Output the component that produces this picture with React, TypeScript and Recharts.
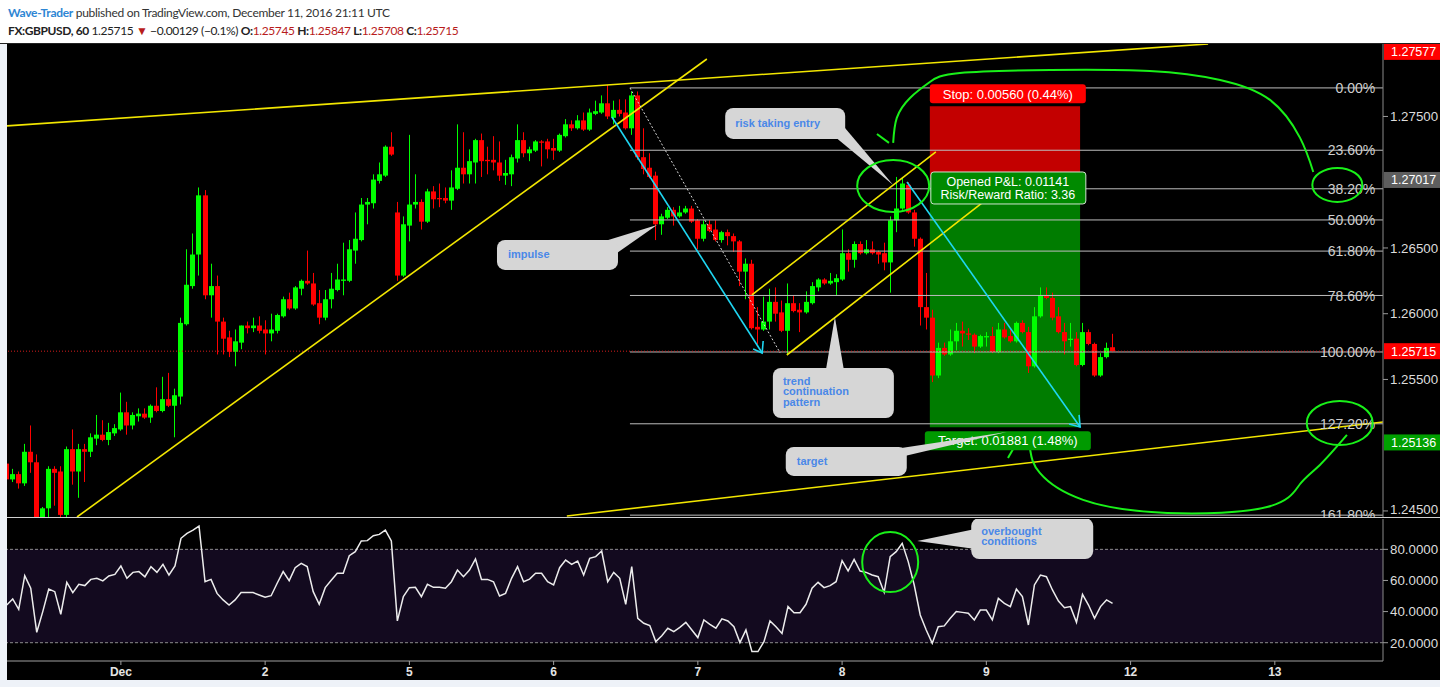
import React from "react";
import {
  Bar,
  ComposedChart,
  Line,
  ReferenceArea,
  ReferenceDot,
  ReferenceLine,
  XAxis,
  YAxis,
} from "recharts";

// hourly GBPUSD candles, bar index 0 = Nov 30 05:00
const openPx = [
  1.2486, 1.2474, 1.2478, 1.2471, 1.2495, 1.2487, 1.244, 1.2452, 1.2482, 1.248,
  1.2447, 1.2497, 1.248, 1.2497, 1.2495, 1.2505, 1.2508, 1.2504, 1.2509, 1.2512,
  1.2525, 1.2515, 1.2522, 1.2524, 1.2521, 1.253, 1.2526, 1.2535, 1.253, 1.2537,
  1.2592, 1.2621, 1.2645, 1.269, 1.2614, 1.2621, 1.2594, 1.2582, 1.2571, 1.2578,
  1.2591, 1.2589, 1.2591, 1.2588, 1.2585, 1.2587, 1.2598, 1.2611, 1.2604, 1.2619,
  1.2625, 1.2623, 1.2608, 1.2597, 1.2611, 1.2618, 1.2625, 1.2625, 1.2648, 1.2656,
  1.2683, 1.2684, 1.2701, 1.2705, 1.2727, 1.2677, 1.2629, 1.2667, 1.2683, 1.2685,
  1.267, 1.2693, 1.2688, 1.2688, 1.2686, 1.2695, 1.2711, 1.2706, 1.2715, 1.2732,
  1.2717, 1.2717, 1.2715, 1.2705, 1.2706, 1.2718, 1.2732, 1.2722, 1.2724, 1.2731,
  1.2731, 1.2726, 1.2724, 1.2735, 1.2744, 1.2741, 1.2747, 1.274, 1.2752, 1.2753,
  1.276, 1.2749, 1.2755, 1.2753, 1.2741, 1.2766, 1.2719, 1.2711, 1.2705, 1.2668,
  1.2673, 1.2679, 1.2674, 1.2677, 1.268, 1.2671, 1.2657, 1.2668, 1.2664, 1.2656,
  1.2662, 1.2659, 1.2655, 1.2632, 1.2638, 1.259, 1.2588, 1.2594, 1.2609, 1.2601,
  1.2587, 1.2608, 1.2603, 1.2601, 1.2608, 1.262, 1.2626, 1.2623, 1.2624, 1.2626,
  1.2646, 1.2641, 1.2653, 1.2646, 1.2649, 1.2647, 1.2646, 1.2639, 1.2671, 1.268,
  1.2698, 1.2677, 1.2657, 1.2605, 1.2597, 1.2553, 1.2574, 1.2569, 1.2579, 1.2587,
  1.2585, 1.2584, 1.2575, 1.2582, 1.2583, 1.2571, 1.2588, 1.2583, 1.2579, 1.2593,
  1.2586, 1.256, 1.2598, 1.2614, 1.2612, 1.2598, 1.2586, 1.258, 1.2581, 1.2561,
  1.2586, 1.2577, 1.2553, 1.2567, 1.25745,
];
const highPx = [
  1.2489, 1.2482, 1.248, 1.2501, 1.2515, 1.2493, 1.2453, 1.2484, 1.2484, 1.2484,
  1.2499, 1.2512, 1.2501, 1.2501, 1.2509, 1.2523, 1.2519, 1.2517, 1.2516, 1.254,
  1.2533, 1.2525, 1.2528, 1.2528, 1.2531, 1.2544, 1.2552, 1.2555, 1.2543, 1.2597,
  1.2649, 1.2661, 1.2696, 1.2694, 1.2638, 1.2629, 1.2597, 1.2587, 1.2588, 1.2591,
  1.2594, 1.2597, 1.2598, 1.2595, 1.26, 1.26, 1.2613, 1.2616, 1.2621, 1.2626,
  1.2648, 1.2631, 1.2618, 1.2618, 1.2631, 1.2638, 1.2654, 1.2656, 1.2677, 1.2688,
  1.2688, 1.2706, 1.2715, 1.2728, 1.2738, 1.2685, 1.2674, 1.2736, 1.2706, 1.2687,
  1.2695, 1.2697, 1.2699, 1.2696, 1.2709, 1.2744, 1.2738, 1.2725, 1.2733, 1.2737,
  1.2727, 1.2735, 1.2731, 1.2717, 1.2721, 1.2744, 1.2738, 1.2727, 1.2732, 1.2732,
  1.2733, 1.2733, 1.2737, 1.2748, 1.2747, 1.2751, 1.2753, 1.2756, 1.2762, 1.2766,
  1.2774, 1.2762, 1.2763, 1.2763, 1.2769, 1.2769, 1.2741, 1.2722, 1.2708, 1.2676,
  1.2681, 1.2681, 1.2682, 1.2682, 1.2682, 1.2672, 1.2671, 1.2671, 1.2671, 1.2663,
  1.2664, 1.2661, 1.2656, 1.2642, 1.2641, 1.2605, 1.2613, 1.2619, 1.262, 1.261,
  1.2623, 1.2614, 1.2608, 1.2617, 1.2624, 1.2627, 1.2627, 1.2631, 1.263, 1.2664,
  1.2649, 1.2655, 1.2655, 1.2656, 1.2655, 1.2648, 1.2654, 1.2674, 1.2704, 1.2704,
  1.27, 1.2679, 1.2658, 1.2631, 1.2603, 1.2578, 1.2578, 1.2588, 1.2593, 1.2594,
  1.2589, 1.2585, 1.2584, 1.2586, 1.259, 1.2593, 1.2593, 1.2588, 1.2594, 1.2595,
  1.259, 1.2605, 1.262, 1.262, 1.2616, 1.2605, 1.2593, 1.2593, 1.2586, 1.2593,
  1.2588, 1.2578, 1.257, 1.2578, 1.25847,
];
const lowPx = [
  1.2472, 1.2472, 1.2467, 1.2469, 1.2479, 1.2436, 1.2436, 1.2445, 1.2454, 1.2445,
  1.2445, 1.247, 1.246, 1.2472, 1.2491, 1.25, 1.2503, 1.25, 1.2507, 1.2511,
  1.2508, 1.2512, 1.2518, 1.252, 1.2517, 1.2525, 1.2525, 1.2529, 1.2506, 1.2531,
  1.2591, 1.2619, 1.2629, 1.2611, 1.2597, 1.2569, 1.2569, 1.2567, 1.256, 1.2573,
  1.2585, 1.2586, 1.2585, 1.2569, 1.2579, 1.2585, 1.2597, 1.2603, 1.2603, 1.2614,
  1.2622, 1.2606, 1.2592, 1.2595, 1.2604, 1.2617, 1.2614, 1.2624, 1.2638, 1.2655,
  1.2668, 1.268, 1.2699, 1.2704, 1.272, 1.2625, 1.2628, 1.2655, 1.268, 1.2664,
  1.2669, 1.268, 1.2681, 1.2684, 1.2679, 1.2694, 1.2699, 1.2699, 1.2699, 1.2704,
  1.2706, 1.2709, 1.2701, 1.2698, 1.2697, 1.2715, 1.2719, 1.2716, 1.2723, 1.2712,
  1.2718, 1.2717, 1.2723, 1.2734, 1.2739, 1.274, 1.2739, 1.2739, 1.2751, 1.2752,
  1.2748, 1.2744, 1.275, 1.274, 1.2736, 1.2717, 1.2706, 1.2703, 1.2656, 1.266,
  1.2672, 1.2667, 1.2673, 1.2676, 1.2669, 1.2649, 1.2655, 1.2662, 1.2655, 1.2654,
  1.2652, 1.2647, 1.2621, 1.2611, 1.2588, 1.2577, 1.2587, 1.2588, 1.2594, 1.2586,
  1.2569, 1.2601, 1.2586, 1.26, 1.2607, 1.2617, 1.2622, 1.2622, 1.2614, 1.2625,
  1.2632, 1.2635, 1.2645, 1.2645, 1.2645, 1.2638, 1.2633, 1.2616, 1.2662, 1.2679,
  1.2676, 1.2651, 1.2591, 1.2588, 1.2548, 1.2551, 1.2568, 1.2568, 1.2572, 1.2575,
  1.258, 1.257, 1.2574, 1.2575, 1.257, 1.257, 1.2581, 1.2578, 1.2578, 1.2585,
  1.2555, 1.2559, 1.2597, 1.2611, 1.2595, 1.2585, 1.2569, 1.2575, 1.256, 1.256,
  1.2576, 1.2552, 1.2552, 1.2566, 1.25708,
];
const closePx = [
  1.2474, 1.2478, 1.2471, 1.2495, 1.2487, 1.2439, 1.2452, 1.2482, 1.2479, 1.2447,
  1.2497, 1.248, 1.2497, 1.2495, 1.2506, 1.2508, 1.2504, 1.251, 1.2513, 1.2525,
  1.2515, 1.2523, 1.2524, 1.2521, 1.253, 1.2526, 1.2535, 1.253, 1.2538, 1.2593,
  1.2622, 1.2645, 1.269, 1.2614, 1.2621, 1.2594, 1.2581, 1.2571, 1.2579, 1.2591,
  1.2589, 1.2591, 1.2587, 1.2585, 1.2588, 1.2599, 1.2611, 1.2604, 1.262, 1.2625,
  1.2623, 1.2607, 1.2597, 1.2611, 1.2619, 1.2626, 1.2626, 1.2649, 1.2657, 1.2683,
  1.2685, 1.2702, 1.2706, 1.2727, 1.2721, 1.2629, 1.2668, 1.2683, 1.2685, 1.267,
  1.2693, 1.2687, 1.2687, 1.2686, 1.2696, 1.2711, 1.2706, 1.2716, 1.2732, 1.2716,
  1.2716, 1.2715, 1.2705, 1.2707, 1.2719, 1.2732, 1.2722, 1.2725, 1.2731, 1.273,
  1.2725, 1.2724, 1.2736, 1.2744, 1.2741, 1.2747, 1.274, 1.2753, 1.2754, 1.276,
  1.275, 1.2755, 1.2752, 1.2741, 1.2766, 1.2719, 1.271, 1.2704, 1.2668, 1.2674,
  1.2679, 1.2674, 1.2677, 1.268, 1.267, 1.2657, 1.2668, 1.2663, 1.2656, 1.2662,
  1.2659, 1.2655, 1.2632, 1.2638, 1.2589, 1.2588, 1.2594, 1.2609, 1.26, 1.2587,
  1.2608, 1.2602, 1.2601, 1.2609, 1.2621, 1.2626, 1.2623, 1.2625, 1.2627, 1.2646,
  1.2641, 1.2653, 1.2646, 1.2649, 1.2646, 1.2645, 1.2639, 1.2671, 1.268, 1.2699,
  1.2677, 1.2657, 1.2605, 1.2597, 1.2553, 1.2574, 1.2569, 1.2579, 1.2587, 1.2585,
  1.2584, 1.2575, 1.2583, 1.2583, 1.2571, 1.2588, 1.2582, 1.2579, 1.2593, 1.2586,
  1.256, 1.2598, 1.2614, 1.2612, 1.2597, 1.2586, 1.2579, 1.2581, 1.2561, 1.2586,
  1.2577, 1.2553, 1.2567, 1.2574, 1.25715,
];
const rsi14 = [
  44.2, 48.1, 41.5, 63.1, 55.0, 26.7, 40.0, 54.5, 52.8, 38.3,
  58.8, 52.2, 57.5, 56.7, 60.7, 61.4, 59.7, 62.9, 63.9, 69.3,
  61.4, 65.2, 65.7, 62.4, 68.9, 65.2, 70.4, 63.5, 69.3, 87.1,
  90.3, 92.4, 95.0, 59.2, 60.7, 51.7, 47.5, 44.2, 47.5, 52.2,
  52.2, 52.2, 50.7, 49.2, 50.2, 58.2, 65.7, 59.9, 68.2, 71.0,
  68.9, 52.8, 44.7, 55.4, 60.1, 64.6, 64.6, 75.9, 78.5, 85.4,
  85.6, 88.8, 89.6, 92.4, 85.4, 34.0, 49.6, 55.4, 55.6, 49.6,
  57.5, 55.6, 55.6, 55.0, 59.2, 66.7, 62.4, 66.7, 73.8, 60.7,
  60.7, 59.2, 50.0, 51.7, 61.4, 68.9, 59.2, 60.9, 64.6, 64.6,
  59.2, 57.1, 68.2, 73.1, 70.4, 72.5, 63.5, 74.2, 75.3, 78.9,
  59.2, 65.2, 61.4, 44.7, 68.9, 35.7, 32.5, 31.0, 20.7, 24.5,
  29.3, 27.1, 29.9, 33.1, 28.2, 23.3, 34.6, 31.8, 29.3, 35.3,
  34.0, 30.3, 20.1, 28.2, 14.3, 14.3, 20.7, 34.0, 30.3, 26.0,
  43.2, 39.3, 39.3, 44.7, 55.0, 58.8, 55.4, 56.7, 59.2, 72.7,
  66.1, 73.6, 66.1, 65.2, 63.5, 62.4, 52.4, 75.3, 78.5, 83.9,
  72.1, 57.1, 37.8, 28.2, 19.6, 30.3, 30.8, 35.7, 40.0, 39.5,
  38.9, 34.6, 41.0, 41.0, 34.6, 48.5, 45.3, 43.2, 54.5, 49.6,
  31.4, 57.1, 63.5, 62.4, 53.9, 46.8, 42.5, 43.2, 33.1, 51.1,
  44.2, 35.7, 43.2, 47.5, 45.3,
];

const dayTicks = [19, 43, 67, 91, 115, 139, 163, 187, 211];
const dayLabels = ["Dec", "2", "5", "6", "7", "8", "9", "12", "13"];
const priceTicks = [1.245, 1.255, 1.26, 1.265, 1.275];
const rsiTicks = [20, 40, 60, 80];

// fib retracement drawn from the Dec 6 high to the Dec 7 low
const fibLevels = [0, 0.236, 0.382, 0.5, 0.618, 0.786, 1, 1.272, 1.618];
const fibNames = ["0.00%", "23.60%", "38.20%", "50.00%", "61.80%", "78.60%", "100.00%", "127.20%", "161.80%"];
const fibHigh = 1.27717;
const fibLow = 1.25709;
const fibFrom = 103.7;

// short position tool
const entryPrice = 1.27017;
const stopPrice = 1.27577;
const targetPrice = 1.25136;
const posFrom = 153.6;
const posTo = 178.6;
const lastPrice = 1.25715;

// price scale tags (TradingView pushes the overlapping ones aside)
const axisTags = [
  { pos: 1.27991, label: "1.27577", bg: "#ff0000" },
  { pos: 1.27017, label: "1.27017", bg: "#5e5e5e" },
  { pos: 1.25715, label: "1.25715", bg: "#ff0000" },
  { pos: 1.25021, label: "1.25136", bg: "#00a000" },
];

const yellowLines = [
  [[0.05, 1.27428], [199.9, 1.28051]],
  [[93.2, 1.24462], [229, 1.25177]],
  [[11.7, 1.24454], [116.5, 1.27937]],
  [[124.0, 1.26143], [154.6, 1.2723]],
  [[129.8, 1.25686], [162.3, 1.26842]],
];
const cyanArrows = [
  { from: [100.7, 1.27496], to: [125.7, 1.25701], wings: [[1, -12], [-9, -4]] },
  { from: [149.8, 1.27002], to: [178.6, 1.25139], wings: [[-1, -12], [-11, -3]] },
];
const dottedDiag = [[103.7, 1.27717], [128.7, 1.25701]];

const callouts = [
  { text: ["impulse"], k: 108.2, p: 1.26675, box: [-160, 15, 121, 30], ptr: [[-52, 16], [-40, 28]], tx: -149, ty: 29 },
  { text: ["risk taking entry"], k: 147.5, p: 1.26979, box: [-168, -77, 120, 31], ptr: [[-58, -48], [-49, -58]], tx: -158, ty: -62 },
  { text: ["trend", "continuation", "pattern"], k: 137.8, p: 1.25975, box: [-62, 51, 121, 50], ptr: [[-9, 53], [9, 53]], tx: -52, ty: 64 },
  { text: ["target"], k: 166.4, p: 1.25101, box: [-221, 15, 121, 29], ptr: [[-112, 17], [-102, 24]], tx: -210, ty: 29 },
];
const rsiCallout = { text: ["overbought", "conditions"], k: 151.5, p: 85.3, box: [54, -23, 122, 41], ptr: [[58, -12], [58, 8]], tx: 64, ty: -10 };

// hand drawn marker strokes
const strokeTop = [
  { k: 147.5, p: 1.27299 }, { k: 148.1, p: 1.27489 }, { k: 150.3, p: 1.27641 },
  { k: 153.6, p: 1.27762 }, { k: 158.6, p: 1.27831 }, { k: 173.6, p: 1.27854 },
  { k: 190.2, p: 1.27846 }, { k: 201.9, p: 1.27778 }, { k: 210.2, p: 1.27626 },
  { k: 215.2, p: 1.27337 }, { k: 217.4, p: 1.27078 },
];
const strokeBottom = [
  { k: 223.0, p: 1.25078 }, { k: 218.5, p: 1.2485 }, { k: 215.2, p: 1.24705 },
  { k: 209.7, p: 1.2453 }, { k: 193.1, p: 1.24485 }, { k: 179.1, p: 1.24584 },
  { k: 171.9, p: 1.24789 }, { k: 170.3, p: 1.24964 }, { k: 169.8, p: 1.25093 },
];
const tickTop = [{ k: 144.8, p: 1.27367 }, { k: 146.8, p: 1.27299 }];
const tickBottom = [{ k: 166.6, p: 1.24903 }, { k: 168.6, p: 1.25063 }];
const circles = [
  { k: 147.5, p: 1.26971, rx: 36, ry: 26 },
  { k: 221.4, p: 1.26979, rx: 25, ry: 17 },
  { k: 221.8, p: 1.25169, rx: 33, ry: 22 },
];
const rsiCircle = { k: 147.0, p: 71.8, rx: 28, ry: 30 };

const rows = openPx.map((o, i) => ({
  k: i,
  open: o,
  high: highPx[i],
  low: lowPx[i],
  close: closePx[i],
  rsi: rsi14[i],
}));

const FONT = '"Liberation Sans", Arial, sans-serif';
const X_DOMAIN: [number, number] = [0.05, 229];
const MARKER = "#19f019";
const PRICE_PANE_H = 473;

const Candle = (props: any) => {
  const { x, y, width, height, payload } = props;
  if (!payload || height == null) return null;
  const { open, close, high, low } = payload;
  const color = close >= open ? "#00ff00" : "#ff0000";
  const cx = Math.floor(x + width / 2);
  const span = high - low || 1e-9;
  const yOf = (v: number) => y + ((high - v) / span) * height;
  const top = yOf(Math.max(open, close));
  const bot = yOf(Math.min(open, close));
  return (
    <g>
      <line x1={cx + 0.5} x2={cx + 0.5} y1={y} y2={y + height} stroke={color} strokeWidth={1} />
      <rect x={cx - 2} y={top} width={5} height={Math.max(1, bot - top)} fill={color} />
    </g>
  );
};

const PriceTick = (props: any) => {
  const { x, y, payload } = props;
  const tag = axisTags.find((t) => Math.abs(t.pos - payload.value) < 1e-7);
  if (tag) {
    return (
      <g>
        <rect x={x + 1} y={y - 8} width={60} height={16} fill={tag.bg} />
        <text x={x + 8} y={y} dy="0.36em" fill="#fff" fontSize={12.5} fontFamily={FONT}>
          {tag.label}
        </text>
      </g>
    );
  }
  // keep the lowest label inside the pane
  const ty = Math.min(y, PRICE_PANE_H - 8);
  return (
    <g>
      <line x1={x} x2={x + 5} y1={y} y2={y} stroke="#9a9a9a" />
      <text x={x + 7} y={ty} dy="0.36em" fill="#dcdcdc" fontSize={13.3} fontFamily={FONT}>
        {payload.value.toFixed(5)}
      </text>
    </g>
  );
};

const RsiTick = (props: any) => {
  const { x, y, payload } = props;
  return (
    <g>
      <line x1={x} x2={x + 5} y1={y} y2={y} stroke="#9a9a9a" />
      <text x={x + 7} y={y} dy="0.36em" fill="#dcdcdc" fontSize={13.3} fontFamily={FONT}>
        {payload.value.toFixed(4)}
      </text>
    </g>
  );
};

const Callout = ({ cx, cy, c }: any) => (
  <g>
    <polygon
      points={`${cx},${cy} ${cx + c.ptr[0][0]},${cy + c.ptr[0][1]} ${cx + c.ptr[1][0]},${cy + c.ptr[1][1]}`}
      fill="#d6d6d6"
    />
    <rect x={cx + c.box[0]} y={cy + c.box[1]} width={c.box[2]} height={c.box[3]} rx={8} fill="#d6d6d6" />
    {c.text.map((t: string, i: number) => (
      <text
        key={t}
        x={cx + c.tx}
        y={cy + c.ty + i * 10.5}
        dy="0.35em"
        fill="#4a88e8"
        fontSize={11}
        fontWeight={700}
        fontFamily={FONT}
      >
        {t}
      </text>
    ))}
  </g>
);

const markerLine = (data: any[], key: string) => (
  <Line
    key={key}
    data={data}
    dataKey="p"
    type="natural"
    stroke={MARKER}
    strokeWidth={2}
    dot={false}
    activeDot={false}
    isAnimationActive={false}
  />
);

const headerStyle: React.CSSProperties = {
  position: "absolute",
  left: 8,
  fontFamily: "Lato, sans-serif",
  fontSize: 12,
  letterSpacing: -0.3,
  whiteSpace: "nowrap",
};

export default function App() {
  return (
    <div
      style={{
        position: "absolute",
        left: 0,
        top: 0,
        width: 1440,
        height: 687,
        background: "#eef2f8",
        overflow: "hidden",
        fontFamily: FONT,
      }}
    >
      {/* header */}
      <div style={{ position: "absolute", left: 0, top: 0, width: 1440, height: 43, background: "#fff" }} />
      <div style={{ ...headerStyle, top: 5, color: "#333" }}>
        <span style={{ color: "#2e86d4", fontWeight: 700 }}>Wave-Trader</span> published on TradingView.com, December 11,
        2016 21:11 UTC
      </div>
      <div style={{ ...headerStyle, top: 23, color: "#222", letterSpacing: -0.4 }}>
        <b>FX:GBPUSD, 60</b> 1.25715 <span style={{ color: "#b81c1c" }}>▼</span> −0.00129 (−0.1%){" "}
        <b>O:</b>
        <span style={{ color: "#b81c1c" }}>1.25745</span> <b>H:</b>
        <span style={{ color: "#b81c1c" }}>1.25847</span> <b>L:</b>
        <span style={{ color: "#b81c1c" }}>1.25708</span> <b>C:</b>
        <span style={{ color: "#b81c1c" }}>1.25715</span>
      </div>
      <div style={{ position: "absolute", left: 0, top: 43, width: 1440, height: 1, background: "#222" }} />

      {/* chart backgrounds */}
      <div style={{ position: "absolute", left: 7, top: 44, width: 1433, height: 636, background: "#000" }} />
      <div style={{ position: "absolute", left: 7, top: 517, width: 1433, height: 1, background: "#d0d0d0" }} />

      {/* price pane */}
      <div style={{ position: "absolute", left: 0, top: 44 }}>
        <ComposedChart width={1440} height={PRICE_PANE_H} data={rows} margin={{ top: 0, right: 0, bottom: 0, left: 7 }}>
          <XAxis dataKey="k" type="number" domain={X_DOMAIN} allowDataOverflow hide />
          <YAxis
            orientation="right"
            width={57}
            domain={[1.24454, 1.28051]}
            allowDataOverflow
            ticks={[...priceTicks, ...axisTags.map((t) => t.pos)]}
            interval={0}
            tick={(p: any) => <PriceTick {...p} />}
            tickLine={false}
            tickSize={0}
            tickMargin={0}
            axisLine={{ stroke: "#8a8a8a" }}
          />

          <ReferenceArea x1={posFrom} x2={posTo} y1={entryPrice} y2={stopPrice} fill="#c30000" fillOpacity={1} stroke="none" />
          <ReferenceArea x1={posFrom} x2={posTo} y1={targetPrice} y2={entryPrice} fill="#007c00" fillOpacity={1} stroke="none" />

          {fibLevels.map((lv) => {
            const price = fibHigh + (fibLow - fibHigh) * lv;
            return (
              <ReferenceLine
                key={`fib${lv}`}
                segment={[
                  { x: fibFrom, y: price },
                  { x: X_DOMAIN[1], y: price },
                ]}
                stroke="#bdbdbd"
                strokeWidth={1}
                ifOverflow="visible"
              />
            );
          })}
          <ReferenceLine y={lastPrice} stroke="#d41c1c" strokeDasharray="1 2" />

          <Bar dataKey={(d: any) => [d.low, d.high]} barSize={5} shape={Candle} isAnimationActive={false} />

          {yellowLines.map((s, i) => (
            <ReferenceLine
              key={`yl${i}`}
              segment={[
                { x: s[0][0], y: s[0][1] },
                { x: s[1][0], y: s[1][1] },
              ]}
              stroke="#f2e600"
              strokeWidth={1.6}
              ifOverflow="hidden"
            />
          ))}
          <ReferenceLine
            segment={[
              { x: dottedDiag[0][0], y: dottedDiag[0][1] },
              { x: dottedDiag[1][0], y: dottedDiag[1][1] },
            ]}
            stroke="#d8d8d8"
            strokeDasharray="2 2"
            ifOverflow="hidden"
          />
          {cyanArrows.map((a, i) => (
            <ReferenceLine
              key={`cy${i}`}
              segment={[
                { x: a.from[0], y: a.from[1] },
                { x: a.to[0], y: a.to[1] },
              ]}
              stroke="#1fd6f2"
              strokeWidth={1.6}
              ifOverflow="hidden"
            />
          ))}
          {cyanArrows.map((a, i) => (
            <ReferenceDot
              key={`ah${i}`}
              x={a.to[0]}
              y={a.to[1]}
              r={0}
              ifOverflow="visible"
              shape={(p: any) => (
                <path
                  d={`M${p.cx + a.wings[0][0]},${p.cy + a.wings[0][1]} L${p.cx},${p.cy} L${p.cx + a.wings[1][0]},${p.cy + a.wings[1][1]}`}
                  stroke="#1fd6f2"
                  strokeWidth={1.6}
                  fill="none"
                />
              )}
            />
          ))}

          {fibLevels.map((lv, i) => (
            <ReferenceDot
              key={`fl${lv}`}
              x={227.7}
              y={fibHigh + (fibLow - fibHigh) * lv}
              r={0}
              ifOverflow="visible"
              shape={(p: any) => (
                <text x={p.cx} y={p.cy} dy="0.36em" textAnchor="end" fill="#cfcfcf" fontSize={14} fontFamily={FONT}>
                  {fibNames[i]}
                </text>
              )}
            />
          ))}

          <ReferenceDot
            x={posFrom}
            y={stopPrice}
            r={0}
            ifOverflow="visible"
            shape={(p: any) => (
              <g>
                <rect x={p.cx} y={p.cy - 22} width={156} height={19} rx={3} fill="#ff0000" />
                <text x={p.cx + 78} y={p.cy - 12.5} dy="0.36em" textAnchor="middle" fill="#fff" fontSize={13} fontFamily={FONT}>
                  Stop: 0.00560 (0.44%)
                </text>
              </g>
            )}
          />
          <ReferenceDot
            x={posFrom}
            y={entryPrice}
            r={0}
            ifOverflow="visible"
            shape={(p: any) => (
              <g>
                <rect x={p.cx + 1} y={p.cy - 8} width={155} height={32} rx={3} fill="#008a00" stroke="#cfe3cf" />
                <text x={p.cx + 78} y={p.cy + 2} dy="0.36em" textAnchor="middle" fill="#fff" fontSize={12.5} fontFamily={FONT}>
                  Opened P&amp;L: 0.01141
                </text>
                <text x={p.cx + 78} y={p.cy + 14.5} dy="0.36em" textAnchor="middle" fill="#fff" fontSize={12.5} fontFamily={FONT}>
                  Risk/Reward Ratio: 3.36
                </text>
              </g>
            )}
          />
          <ReferenceDot
            x={posFrom}
            y={targetPrice}
            r={0}
            ifOverflow="visible"
            shape={(p: any) => (
              <g>
                <rect x={p.cx - 5} y={p.cy + 4} width={166} height={19} rx={3} fill="#009a00" />
                <text x={p.cx + 78} y={p.cy + 13.5} dy="0.36em" textAnchor="middle" fill="#fff" fontSize={13} fontFamily={FONT}>
                  Target: 0.01881 (1.48%)
                </text>
              </g>
            )}
          />

          {callouts.map((c) => (
            <ReferenceDot
              key={c.text[0]}
              x={c.k}
              y={c.p}
              r={0}
              ifOverflow="visible"
              shape={(p: any) => <Callout cx={p.cx} cy={p.cy} c={c} />}
            />
          ))}

          {markerLine(strokeTop, "st")}
          {markerLine(strokeBottom, "sb")}
          {markerLine(tickTop, "tt")}
          {markerLine(tickBottom, "tb")}
          {circles.map((c, i) => (
            <ReferenceDot
              key={`c${i}`}
              x={c.k}
              y={c.p}
              r={0}
              ifOverflow="visible"
              shape={(p: any) => (
                <ellipse cx={p.cx} cy={p.cy} rx={c.rx} ry={c.ry} fill="none" stroke={MARKER} strokeWidth={2} />
              )}
            />
          ))}
        </ComposedChart>
      </div>

      {/* RSI pane */}
      <div style={{ position: "absolute", left: 0, top: 519 }}>
        <ComposedChart width={1440} height={161} data={rows} margin={{ top: 0, right: 0, bottom: 0, left: 7 }}>
          <XAxis
            dataKey="k"
            type="number"
            domain={X_DOMAIN}
            allowDataOverflow
            ticks={dayTicks}
            interval={0}
            tickFormatter={(v: number) => dayLabels[dayTicks.indexOf(v)] ?? ""}
            height={19}
            tickSize={4}
            axisLine={{ stroke: "#a0a0a0" }}
            tickLine={{ stroke: "#a0a0a0" }}
            tick={{ fill: "#e4e4e4", fontSize: 12, fontWeight: 700, fontFamily: FONT }}
          />
          <YAxis
            orientation="right"
            width={57}
            domain={[8.25, 99.5]}
            allowDataOverflow
            ticks={rsiTicks}
            interval={0}
            tick={(p: any) => <RsiTick {...p} />}
            tickLine={false}
            tickSize={0}
            tickMargin={0}
            axisLine={{ stroke: "#8a8a8a" }}
          />
          <ReferenceArea y1={20} y2={80} fill="#130a1f" fillOpacity={1} stroke="none" />
          <ReferenceLine y={80} stroke="#8c8c8c" strokeDasharray="3 2" />
          <ReferenceLine y={20} stroke="#8c8c8c" strokeDasharray="3 2" />
          <Line
            dataKey="rsi"
            type="linear"
            stroke="#ececec"
            strokeWidth={1.5}
            dot={false}
            activeDot={false}
            isAnimationActive={false}
          />
          <ReferenceDot
            x={rsiCallout.k}
            y={rsiCallout.p}
            r={0}
            ifOverflow="visible"
            shape={(p: any) => <Callout cx={p.cx} cy={p.cy} c={rsiCallout} />}
          />
          <ReferenceDot
            x={rsiCircle.k}
            y={rsiCircle.p}
            r={0}
            ifOverflow="visible"
            shape={(p: any) => (
              <ellipse cx={p.cx} cy={p.cy} rx={rsiCircle.rx} ry={rsiCircle.ry} fill="none" stroke={MARKER} strokeWidth={2} />
            )}
          />
        </ComposedChart>
      </div>
    </div>
  );
}
